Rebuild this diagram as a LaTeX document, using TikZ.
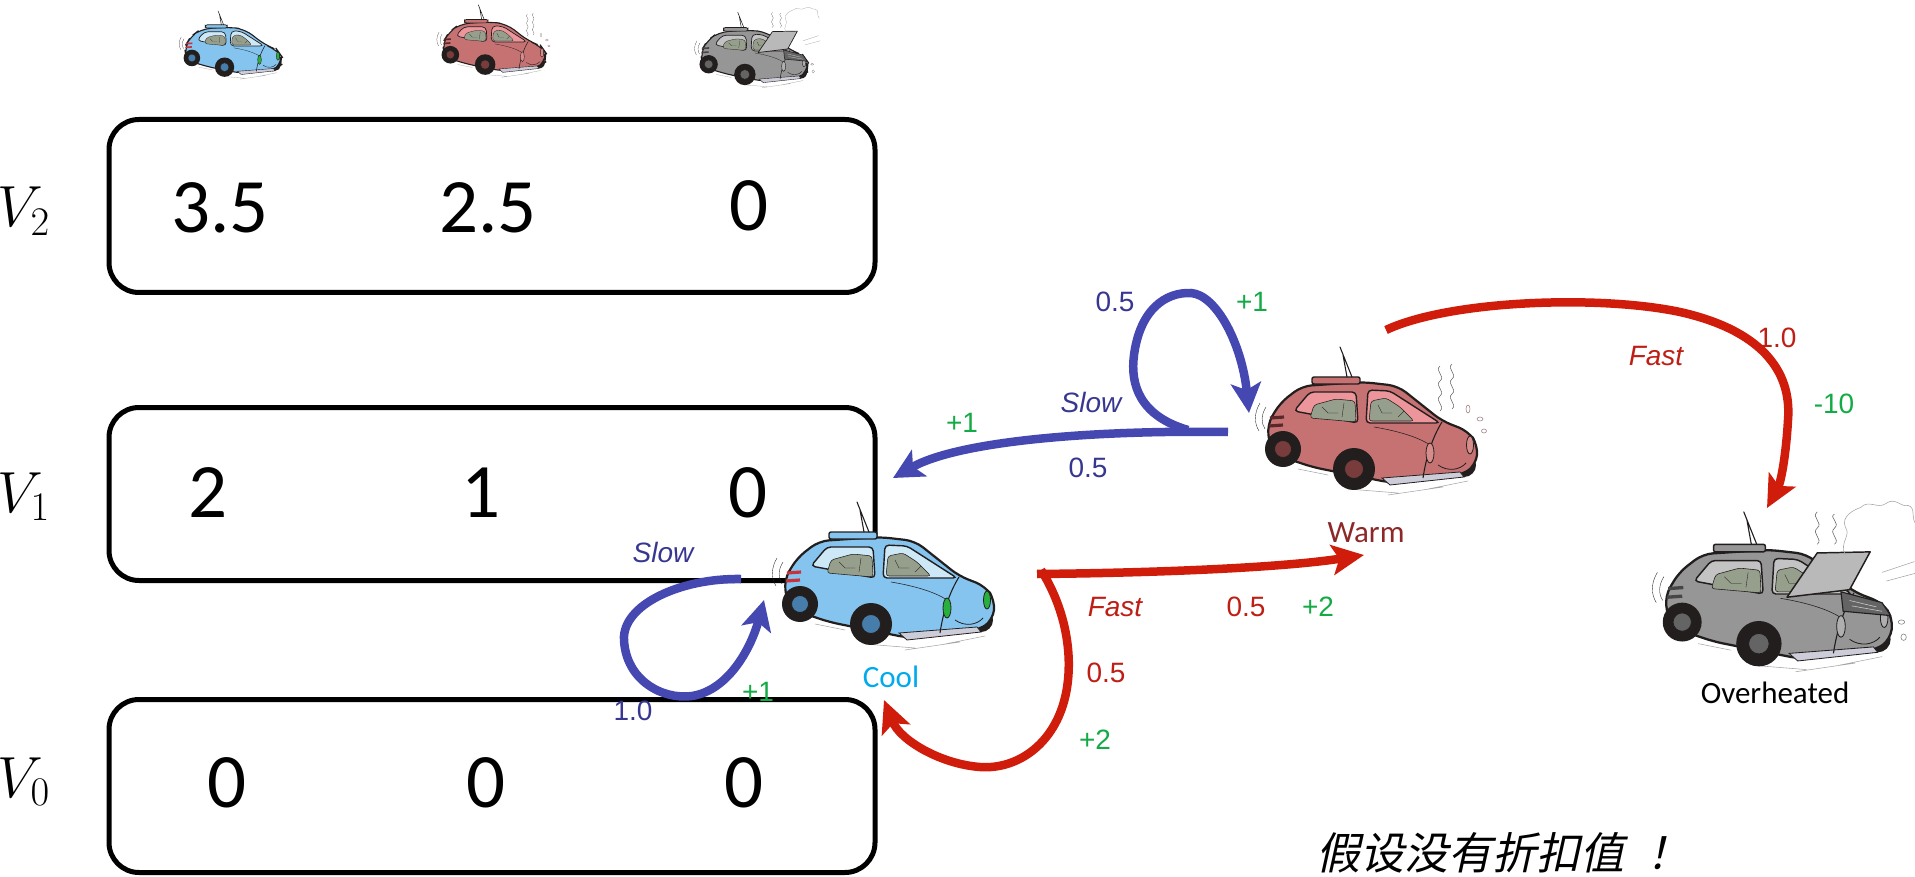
\RequirePackage{fix-cm}
\documentclass[tikz,border=0pt]{standalone}
\usepackage{fontspec}
\usetikzlibrary{arrows.meta,calc}
\newfontfamily\numfont{Carlito}
\newfontfamily\lblfont{Liberation Sans}
\newfontfamily\cjkfont[FakeSlant=0.22]{Noto Sans CJK SC}

% arrow and text colours
\definecolor{slowblue}{RGB}{70,72,178}
\definecolor{slowtext}{RGB}{55,55,145}
\definecolor{fastred}{RGB}{208,28,10}
\definecolor{fasttext}{RGB}{190,30,20}
\definecolor{rewardgreen}{RGB}{20,170,70}
\definecolor{coolcyan}{RGB}{0,170,235}
\definecolor{warmtext}{RGB}{140,40,40}
\definecolor{ink}{RGB}{35,30,30}
% car colours
\definecolor{coolbody}{RGB}{132,196,238}
\definecolor{coolglass}{RGB}{205,232,246}
\definecolor{coolhub}{RGB}{70,125,170}
\definecolor{coollight}{RGB}{40,175,60}
\definecolor{coolstripe}{RGB}{200,50,60}
\definecolor{warmbody}{RGB}{198,114,114}
\definecolor{warmglass}{RGB}{236,150,155}
\definecolor{warmhub}{RGB}{120,60,60}
\definecolor{warmlight}{RGB}{215,140,140}
\definecolor{warmstripe}{RGB}{90,40,40}
\definecolor{hotbody}{RGB}{150,150,150}
\definecolor{hotglass}{RGB}{195,195,195}
\definecolor{hothub}{RGB}{100,100,100}
\definecolor{hotlight}{RGB}{175,175,175}
\definecolor{hotstripe}{RGB}{70,70,70}
\definecolor{cabin}{RGB}{150,158,140}
\definecolor{skirt}{RGB}{205,205,218}

\tikzset{
  % cartoon car: body, glass, hub, light, tail-stripe colours
  pics/car/.style n args={5}{code={
    \draw[gray!70, line width=0.5\pgflinewidth, line cap=round]
      (-70,46) -- (-40,52) (-20,66) -- (30,70) (20,72) -- (75,64) (60,66) -- (100,58);
    \fill[ink] (96,42) circle (12);
    \path[fill=#1, draw=ink, rounded corners=10]
      (-97,30) -- (-101,2) -- (-88,-20) -- (-66,-37) -- (-5,-41) -- (30,-37)
      -- (74,-2) -- (100,8) -- (110,22) -- (108,42) -- (94,52) -- (24,60)
      -- (-56,44) -- cycle;
    \path[fill=skirt, draw=ink, line width=0.6\pgflinewidth]
      (14,55) -- (92,49) -- (96,54) -- (22,62) -- cycle;
    \draw[ink, line width=0.7\pgflinewidth] (74,-1) .. controls (64,15) and (58,35) .. (55,55);
    \draw[ink, line width=0.5\pgflinewidth] (6,4) .. controls (30,8) and (50,14) .. (62,22);
    \path[fill=#2, draw=ink, line width=0.8\pgflinewidth, rounded corners=4]
      (-74,-12) -- (-58,-31) -- (-12,-31) -- (-10,0) -- cycle;
    \path[fill=#2, draw=ink, line width=0.8\pgflinewidth, rounded corners=4]
      (0,-33) -- (22,-32) -- (72,0) -- (-2,0) -- cycle;
    \path[fill=cabin, draw=ink, line width=0.5\pgflinewidth, rounded corners=3]
      (-58,-5) -- (-54,-18) -- (-32,-24) -- (-13,-22) -- (-12,-1) -- cycle;
    \draw[ink, line width=0.4\pgflinewidth] (-46,-16) -- (-40,-10) -- (-30,-10) (-24,-20) -- (-26,-6);
    \path[fill=cabin, draw=ink, line width=0.5\pgflinewidth, rounded corners=3]
      (1,-2) -- (3,-22) -- (18,-25) -- (32,-16) -- (46,-2) -- cycle;
    \draw[ink, line width=0.4\pgflinewidth] (10,-18) -- (14,-10) -- (24,-10) (30,-6) -- (36,-12);
    \path[fill=#1, draw=ink, rounded corners=2, line width=0.8\pgflinewidth]
      (-56,-46) rectangle (-8,-39);
    \draw[ink, line width=0.7\pgflinewidth, line cap=round]
      (-16,-46) -- (-28,-76) (-21,-46) -- (-25,-68);
    \fill[ink] (-85,26) circle (18);
    \path[fill=#3, draw=ink, line width=0.6\pgflinewidth] (-85,26) circle (8.5);
    \fill[ink] (-14,46) circle (21);
    \path[fill=#3, draw=ink, line width=0.6\pgflinewidth] (-14,46) circle (9.5);
    \path[fill=#4, draw=ink, line width=0.6\pgflinewidth] (62,30) ellipse [x radius=4, y radius=10];
    \path[fill=#4, draw=ink, line width=0.6\pgflinewidth] (102,22) ellipse [x radius=3.5, y radius=9];
    \draw[ink, line width=0.6\pgflinewidth] (70,42) .. controls (80,49) and (92,47) .. (98,40);
    \draw[#5, line width=1.2\pgflinewidth] (-98,-5) -- (-84,-6) (-99,3) -- (-85,2);
    \draw[ink, line width=0.4\pgflinewidth]
      (-108,-20) .. controls (-114,-10) and (-114,0) .. (-109,8)
      (-102,-16) .. controls (-107,-8) and (-107,0) .. (-103,6);
  }},
  % heat waves and drops over a warm engine
  pics/heat/.style={code={
    \draw[gray!80!black, line width=0.5\pgflinewidth]
      (72,-12) .. controls (78,-17) and (66,-22) .. (72,-27) .. controls (78,-32) and (66,-37) .. (72,-42)
        .. controls (78,-47) and (66,-52) .. (72,-57)
      (84,-14) .. controls (90,-19) and (78,-24) .. (84,-29) .. controls (90,-34) and (78,-39) .. (84,-44)
        .. controls (90,-49) and (78,-54) .. (84,-59);
    \draw[warmstripe!60, line width=0.5\pgflinewidth]
      (100,-14) ellipse [x radius=2, y radius=4] (112,-4) ellipse [x radius=3, y radius=2]
      (116,8) ellipse [x radius=2.5, y radius=2];
  }},
  % opened hood and steam of an overheated engine
  pics/openhood/.style={code={
    \path[fill=hothub, draw=ink, line width=0.7\pgflinewidth]
      (62,-2) -- (100,8) -- (108,20) -- (64,16) -- cycle;
    \draw[gray!40, line width=0.5\pgflinewidth] (70,6) -- (95,12) (72,11) -- (100,16);
    \path[fill=hotglass!85!gray, draw=ink, line join=round, line width=0.8\pgflinewidth]
      (12,3) -- (40,-38) -- (89,-39) -- (70,-4) -- cycle;
    \draw[gray!80!black, line width=0.5\pgflinewidth]
      (40,-46) .. controls (46,-51) and (34,-56) .. (40,-61) .. controls (46,-66) and (34,-71) .. (40,-76)
      (56,-46) .. controls (62,-51) and (50,-56) .. (56,-61) .. controls (62,-66) and (50,-71) .. (56,-74);
    \draw[gray!70, line width=0.5\pgflinewidth]
      (66,-36) .. controls (60,-48) and (72,-54) .. (66,-62) .. controls (62,-72) and (74,-78) .. (80,-80)
      .. controls (88,-88) and (96,-78) .. (104,-84) .. controls (112,-90) and (118,-80) .. (124,-82)
      .. controls (132,-80) and (126,-70) .. (132,-64)
      (100,-20) -- (130,-30) (104,-12) -- (134,-20);
    \draw[gray, line width=0.5\pgflinewidth]
      (118,26) ellipse [x radius=3, y radius=2] (120,40) ellipse [x radius=2.5, y radius=3];
  }},
  valbox/.style={draw=black, line width=5, rounded corners=30,
    minimum width=766, minimum height=173, inner sep=0},
  value/.style={font={\numfont\fontsize{77}{80}\selectfont}, inner sep=0, anchor=base},
  vlabel/.style={font={\fontsize{58}{60}\selectfont}, inner sep=0, anchor=base east},
  lbl/.style={font={\lblfont\fontsize{28}{30}\selectfont}, inner sep=0},
  act/.style={lbl, font={\lblfont\itshape\fontsize{28}{30}\selectfont}},
  statename/.style={font={\numfont\fontsize{31}{33}\selectfont}, inner sep=0},
  slowarrow/.style={draw=slowblue, line width=8.5,
    -{Stealth[length=30pt, width=30pt, inset=7pt]}},
  fastarrow/.style={draw=fastred, line width=8.5,
    -{Stealth[length=32pt, width=30pt, inset=7pt]}},
}

\begin{document}
\begin{tikzpicture}[x=1pt, y=-1pt]
\useasboundingbox (0,0) rectangle (1915,877);

% value boxes
\node[valbox] (box2) at (492,206) {};
\node[valbox] (box1) at (492,494) {};
\node[valbox] (box0) at (492,786) {};

\node[vlabel] (lab2) at (50,227) {$V_2$};
\node[vlabel] (lab1) at (50,512) {$V_1$};
\node[vlabel] (lab0) at (50,797) {$V_0$};

\node[value] (v2c) at (220,233) {3.5};
\node[value] (v2w) at (488,233) {2.5};
\node[value] (v2o) at (749,231) {0};
\node[value] (v1c) at (208,517) {2};
\node[value] (v1w) at (481,517) {1};
\node[value] (v1o) at (748,517) {0};
\node[value] (v0c) at (227,807) {0};
\node[value] (v0w) at (486,807) {0};
\node[value] (v0o) at (744,807) {0};

% column heads
\pic[scale=0.46, line width=1.1] (headcool) at (231,46) {car={coolbody}{coolglass}{coolhub}{coollight}{coolstripe}};
\pic[scale=0.49, line width=1.1] (headwarm) at (492,42) {car={warmbody}{warmglass}{warmhub}{warmlight}{warmstripe}};
\pic[scale=0.49, line width=1.1] at (492,42) {heat};
\pic[scale=0.51, line width=1.1] (headhot) at (752,51) {car={hotbody}{hotglass}{hothub}{hotlight}{hotstripe}};
\pic[scale=0.51, line width=1.1] at (752,51) {openhood};

% states
\pic[line width=2.2] (cool) at (885,578) {car={coolbody}{coolglass}{coolhub}{coollight}{coolstripe}};
\pic[line width=2.2] (warm) at (1368,423) {car={warmbody}{warmglass}{warmhub}{warmlight}{warmstripe}};
\pic[line width=2.2] at (1368,423) {heat};
\pic[scale=1.08, line width=2.3] (hot) at (1774,594) {car={hotbody}{hotglass}{hothub}{hotlight}{hotstripe}};
\pic[scale=1.08, line width=2.3] at (1774,594) {openhood};

\node[statename, text=coolcyan] (coolname) at (891,677) {Cool};
\node[statename, text=warmtext] (warmname) at (1366,533) {Warm};
\node[statename, text=black] (hotname) at (1775,693) {Overheated};

% transition end points
\coordinate (coolSlowOut) at (741,579);
\coordinate (coolSlowIn) at (764,600);
\coordinate (warmSlowOut) at (1228,432);
\coordinate (warmLoopOut) at (1188,430);
\coordinate (warmLoopIn) at (1249,413);
\coordinate (coolIn) at (893,478);
\coordinate (coolFastOut) at (1037,574);
\coordinate (coolFastFork) at (1041,570);
\coordinate (warmIn) at (1364,555);
\coordinate (coolBackIn) at (884,700);
\coordinate (warmFastOut) at (1386,330);
\coordinate (hotIn) at (1767,508);

% Slow transitions
\draw[slowarrow] (coolSlowOut) .. controls (680,578) and (622,605) .. (624,640)
  .. controls (626,680) and (662,700) .. (692,696)
  .. controls (730,690) and (752,645) .. (coolSlowIn);
\draw[slowarrow] (warmSlowOut) .. controls (1100,430) and (960,440) .. (coolIn);
\draw[slowarrow] (warmLoopOut) .. controls (1140,416) and (1130,385) .. (1134,355)
  .. controls (1140,310) and (1165,292) .. (1191,293)
  .. controls (1217,295) and (1242,345) .. (warmLoopIn);

% Fast transitions
\draw[fastarrow] (coolFastOut) .. controls (1150,573) and (1280,568) .. (warmIn);
\draw[fastarrow] (coolFastFork) .. controls (1060,600) and (1072,640) .. (1068,680)
  .. controls (1062,740) and (1020,770) .. (980,767)
  .. controls (940,764) and (900,740) .. (coolBackIn);
\draw[fastarrow] (warmFastOut) .. controls (1450,300) and (1600,295) .. (1680,312)
  .. controls (1760,330) and (1792,370) .. (1788,420)
  .. controls (1786,455) and (1781,482) .. (hotIn);

% transition labels
\node[act, text=slowtext] (coolSlow) at (663,552) {Slow};
\node[lbl, text=slowtext] (coolSlowP) at (633,711) {1.0};
\node[lbl, text=rewardgreen] (coolSlowR) at (758,692) {+1};

\node[lbl, text=rewardgreen] (warmSlowR) at (962,423) {+1};
\node[act, text=slowtext] (warmSlow) at (1091,402) {Slow};
\node[lbl, text=slowtext] (warmSlowP) at (1088,468) {0.5};
\node[lbl, text=slowtext] (warmLoopP) at (1115,302) {0.5};
\node[lbl, text=rewardgreen] (warmLoopR) at (1252,302) {+1};

\node[act, text=fasttext] (coolFast) at (1115,607) {Fast};
\node[lbl, text=fasttext] (coolFastP) at (1246,607) {0.5};
\node[lbl, text=rewardgreen] (coolFastR) at (1318,607) {+2};
\node[lbl, text=fasttext] (coolBackP) at (1106,673) {0.5};
\node[lbl, text=rewardgreen] (coolBackR) at (1095,740) {+2};

\node[act, text=fasttext] (warmFast) at (1656,356) {Fast};
\node[lbl, text=fasttext] (warmFastP) at (1777,338) {1.0};
\node[lbl, text=rewardgreen] (warmFastR) at (1834,404) {-10};

\node[font={\cjkfont\fontsize{44}{48}\selectfont}, inner sep=0, anchor=west] (note) at (1316,853) {假设没有折扣值\hspace{22pt}！};
\end{tikzpicture}
\end{document}
